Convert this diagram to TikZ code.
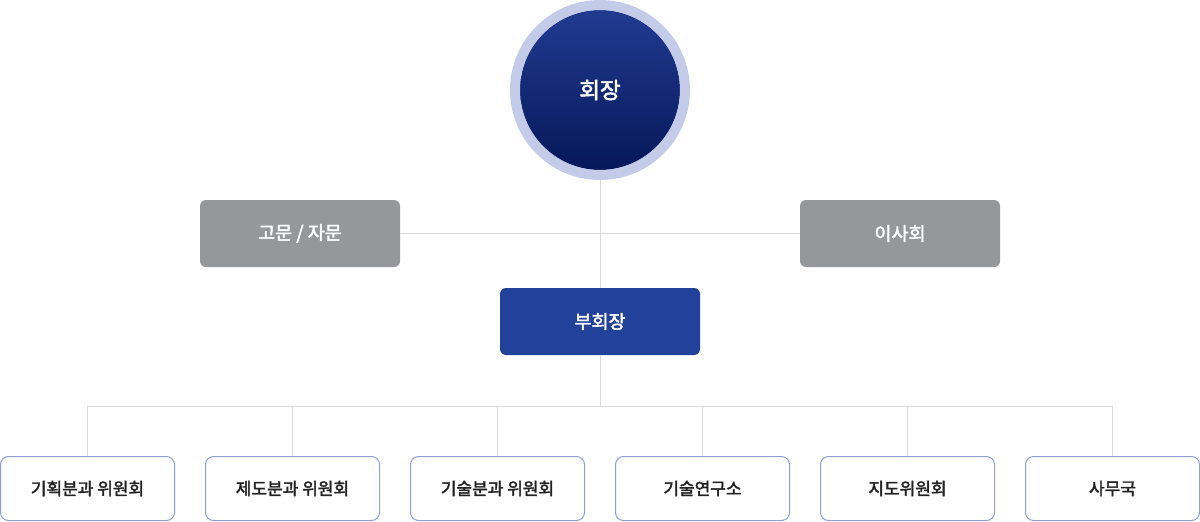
\documentclass[tikz,border=0pt]{standalone}
\usepackage{fontspec}
\setmainfont{Noto Sans CJK KR}
\newfontfamily\medfont{Noto Sans CJK KR}[FakeBold=2.2]
\newfontfamily\wfont{Noto Sans CJK KR}[FakeBold=2.2]
\usetikzlibrary{positioning}
\definecolor{ringc}{HTML}{C3CBE8}
\definecolor{topc}{HTML}{223C92}
\definecolor{botc}{HTML}{061758}
\definecolor{grayc}{HTML}{96979B}
\definecolor{vicec}{HTML}{22419A}
\definecolor{edgec}{HTML}{8FA0D6}
\definecolor{linec}{HTML}{DADADA}
\definecolor{txtc}{HTML}{222222}
\tikzset{
  conn/.style={draw=linec, line width=1pt},
  graybox/.style={fill=grayc, rounded corners=6pt, minimum width=200pt, minimum height=67pt, inner sep=0pt, text=white, font=\fontsize{18.5}{22}\wfont},
  vicebox/.style={fill=vicec, rounded corners=6pt, minimum width=200pt, minimum height=67pt, inner sep=0pt, text=white, font=\fontsize{18.5}{22}\wfont},
  unitbox/.style={draw=edgec, fill=white, line width=1pt, rounded corners=8pt, minimum width=174pt, minimum height=64pt, inner sep=0pt, text=txtc, font=\fontsize{17}{20}\medfont},
}
\begin{document}
\begin{tikzpicture}[x=1pt,y=-1pt]
\useasboundingbox (0,0) rectangle (1200,522);
\coordinate (bus) at (600,406);
\node[graybox] (adv) at (300,233.5) {고문 / 자문};
\node[graybox] (board) at (900,233.5) {이사회};
\node[vicebox] (vice) at (600,321.5) {부회장};
\node[circle, fill=ringc, minimum size=180pt, inner sep=0pt] (ring) at (600,90) {};
\draw[conn] (ring.south) -- (vice.north);
\draw[conn] (adv.east) -- (board.west);
\begin{scope}
  \clip (600,90) circle[radius=80pt];
  \shade[top color=topc, bottom color=botc] (515,5) rectangle (685,175);
\end{scope}
\draw[ringc, line width=1pt] (600,90) circle[radius=80.5pt];
\node[circle, inner sep=0pt, minimum size=160pt, text=white, font=\fontsize{22.5}{26}\wfont] (pres) at (600,90) {회장};
\node[unitbox] (u1) at (87.5,488.5) {기획분과 위원회};
\node[unitbox] (u2) at (292.5,488.5) {제도분과 위원회};
\node[unitbox] (u3) at (497.5,488.5) {기술분과 위원회};
\node[unitbox] (u4) at (702.5,488.5) {기술연구소};
\node[unitbox] (u5) at (907.5,488.5) {지도위원회};
\node[unitbox] (u6) at (1112.5,488.5) {사무국};
\draw[conn] (vice.south) -- (bus);
\draw[conn] (u1.north) -- (u1.north |- bus) -- (u6.north |- bus) -- (u6.north);
\foreach \u in {u2,u3,u4,u5} \draw[conn] (\u.north) -- (\u.north |- bus);
\end{tikzpicture}
\end{document}
